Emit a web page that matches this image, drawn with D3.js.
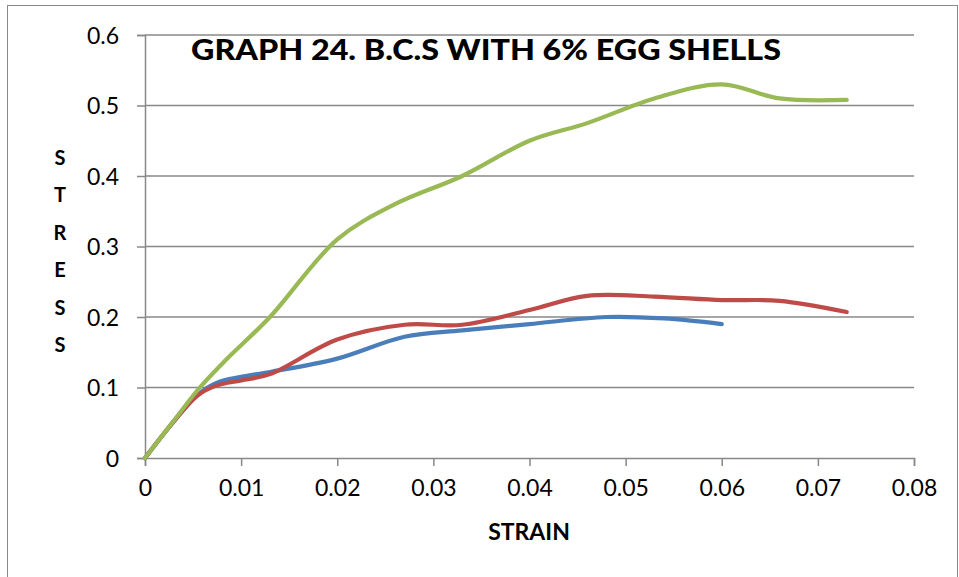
<!DOCTYPE html>
<html>
<head>
<meta charset="utf-8">
<script src="https://cdn.jsdelivr.net/npm/d3@7"></script>
<style>
  body { margin: 0; background: #fff; }
  svg text { font-family: Lato, "Open Sans", sans-serif; }
</style>
</head>
<body>
<svg id="chart" width="959" height="577"></svg>
<script>
// data
var xTicks = [0, 0.01, 0.02, 0.03, 0.04, 0.05, 0.06, 0.07, 0.08];
var yTicks = [0, 0.1, 0.2, 0.3, 0.4, 0.5, 0.6];

var blueStrain = [0, 0.003, 0.0055, 0.0075, 0.01, 0.013, 0.02, 0.027, 0.033, 0.04, 0.048, 0.054, 0.06];
var blueStress = [0, 0.052, 0.09, 0.107, 0.115, 0.122, 0.141, 0.172, 0.181, 0.19, 0.2, 0.198, 0.19];

var redStrain = [0, 0.003, 0.0055, 0.0075, 0.01, 0.013, 0.02, 0.027, 0.033, 0.04, 0.046, 0.053, 0.06, 0.066, 0.073];
var redStress = [0, 0.052, 0.089, 0.103, 0.11, 0.119, 0.168, 0.189, 0.189, 0.21, 0.23, 0.229, 0.224, 0.223, 0.207];

var greenStrain = [0, 0.003, 0.0057, 0.0084, 0.013, 0.02, 0.026, 0.033, 0.04, 0.046, 0.053, 0.06, 0.066, 0.073];
var greenStress = [0, 0.053, 0.1, 0.139, 0.2, 0.31, 0.36, 0.4, 0.45, 0.475, 0.51, 0.53, 0.51, 0.508];

var titleText = "GRAPH 24. B.C.S WITH 6% EGG SHELLS";
var xTitle = "STRAIN";
var yTitle = "STRESS";

var svg = d3.select("#chart");
var margin = {top: 35, left: 145, right: 914, bottom: 458};
var gridColor = "#888888";

var x = d3.scaleLinear().domain([0, 0.08]).range([margin.left, margin.right]);
var y = d3.scaleLinear().domain([0, 0.6]).range([margin.bottom, margin.top]);

// outer frame
svg.append("rect")
  .attr("x", 7.5).attr("y", 5.5)
  .attr("width", 950).attr("height", 580)
  .attr("fill", "none")
  .attr("stroke", "#888")
  .attr("stroke-width", 1);

// horizontal gridlines
svg.append("g")
  .selectAll("line")
  .data(yTicks.slice(1))
  .join("line")
  .attr("x1", margin.left).attr("x2", margin.right)
  .attr("y1", function (d) { return y(d); })
  .attr("y2", function (d) { return y(d); })
  .attr("stroke", gridColor)
  .attr("stroke-width", 1.3);

// axes
var yAxis = svg.append("g")
  .attr("transform", "translate(" + margin.left + ",0)")
  .call(d3.axisLeft(y).tickValues(yTicks).tickSize(8).tickPadding(18)
    .tickFormat(function (d) { return d === 0 ? "0" : d3.format(".1f")(d); }));

var xAxis = svg.append("g")
  .attr("transform", "translate(0," + margin.bottom + ")")
  .call(d3.axisBottom(x).tickValues(xTicks).tickSize(8).tickPadding(14)
    .tickFormat(function (d) { return d === 0 ? "0" : d3.format(".2f")(d); }));

[xAxis, yAxis].forEach(function (a) {
  a.select(".domain").attr("stroke", gridColor).attr("stroke-width", 1.5);
  a.selectAll(".tick line").attr("stroke", gridColor).attr("stroke-width", 1.5);
  a.selectAll(".tick text")
    .attr("fill", "#000")
    .style("font-size", "23px")
    .style("font-family", "Lato, sans-serif");
});
yAxis.selectAll(".tick text").attr("dy", "0.35em");

// series
var line = d3.line()
  .x(function (d) { return x(d[0]); })
  .y(function (d) { return y(d[1]); })
  .curve(d3.curveCatmullRom.alpha(0.5));

var series = [
  {name: "blue", strain: blueStrain, stress: blueStress, color: "#4A7EBB"},
  {name: "red", strain: redStrain, stress: redStress, color: "#BE4B48"},
  {name: "green", strain: greenStrain, stress: greenStress, color: "#98B954"}
];

series.forEach(function (s) {
  var pts = s.strain.map(function (v, i) { return [v, s.stress[i]]; });
  svg.append("path")
    .datum(pts)
    .attr("fill", "none")
    .attr("stroke", s.color)
    .attr("stroke-width", 4.2)
    .attr("stroke-linejoin", "round")
    .attr("stroke-linecap", "round")
    .attr("d", line);
});

// titles
svg.append("text")
  .attr("x", 191).attr("y", 60)
  .attr("textLength", 590)
  .attr("lengthAdjust", "spacingAndGlyphs")
  .style("font-size", "28px")
  .style("font-weight", "900")
  .text(titleText);

svg.append("text")
  .attr("x", 529).attr("y", 540)
  .attr("text-anchor", "middle")
  .style("font-size", "23px")
  .style("font-weight", "bold")
  .text(xTitle);

svg.append("g")
  .selectAll("text")
  .data(yTitle.split(""))
  .join("text")
  .attr("x", 60)
  .attr("y", function (d, i) { return 165 + i * 37.4; })
  .attr("text-anchor", "middle")
  .style("font-size", "20px")
  .style("font-weight", "bold")
  .text(function (d) { return d; });
</script>
</body>
</html>
